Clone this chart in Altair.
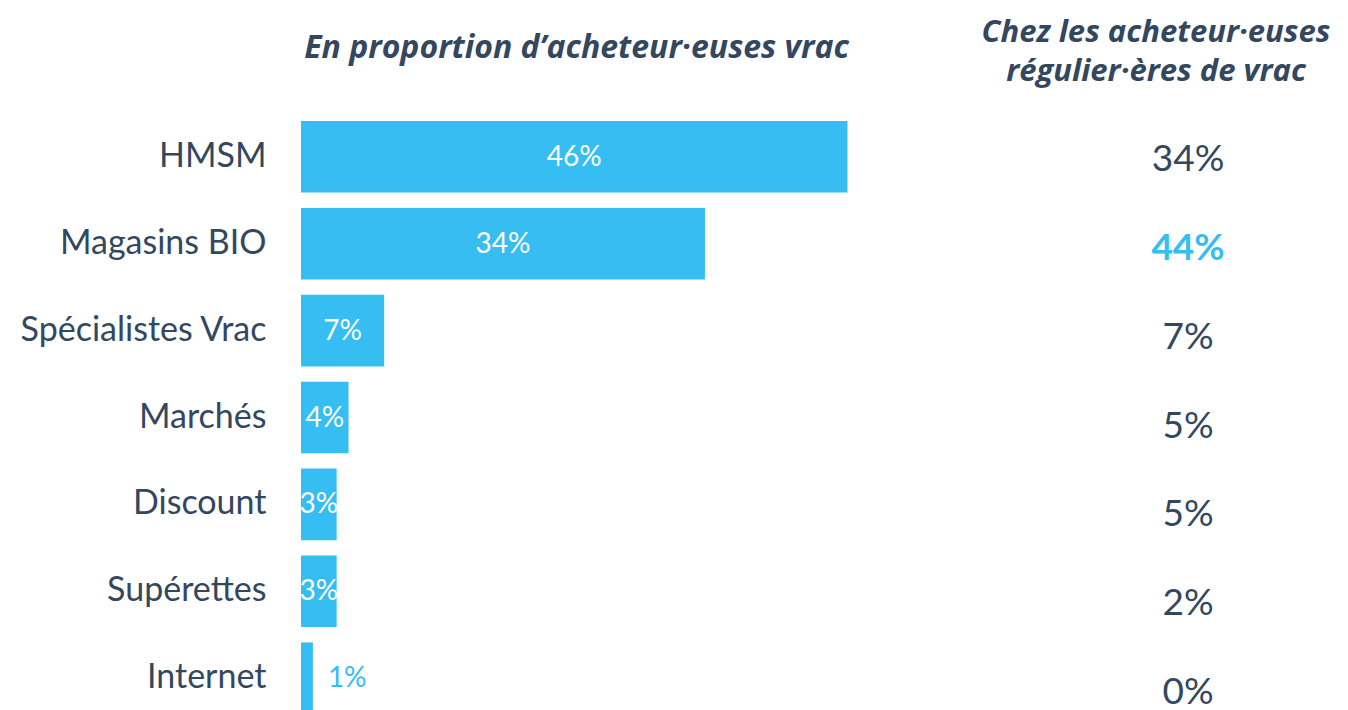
import altair as alt
import pandas as pd

# ---- data ----
categories = ["HMSM", "Magasins BIO", "Spécialistes Vrac", "Marchés",
              "Discount", "Supérettes", "Internet"]
share_all_buyers = [46, 34, 7, 4, 3, 3, 1]          # % of bulk buyers
share_regular_buyers = [34, 44, 7, 5, 5, 2, 0]      # % among regular bulk buyers

title_left = "En proportion d’acheteur·euses vrac"
title_right = ["Chez les acheteur·euses", "régulier·ères de vrac"]

df = pd.DataFrame({"cat": categories, "all": share_all_buyers, "reg": share_regular_buyers})

BLUE = "#36BDF2"
DARK = "#33475F"
FONT = "Lato"
TFONT = "Open Sans"

base = alt.Chart(df)

y_bar = alt.Y(
    "cat:N", sort=categories,
    scale=alt.Scale(domain=categories, paddingInner=0.1765, paddingOuter=0),
    axis=alt.Axis(title=None, domain=False, ticks=False, labelPadding=35,
                  labelFontSize=34, labelFont=FONT, labelColor=DARK,
                  labelLimit=400),
)
x_bar = alt.Scale(domain=[0, 50], nice=False, zero=True)

bars = base.mark_bar(color=BLUE).encode(
    x=alt.X("all:Q", scale=x_bar, axis=None),
    y=y_bar,
)

inside = base.transform_filter("datum.all >= 2").transform_calculate(
    mid="datum.all / 2", lab="datum.all + '%'"
).mark_text(color="white", fontSize=28, font=FONT, baseline="middle", dy=1).encode(
    x=alt.X("mid:Q", scale=x_bar, axis=None),
    y=y_bar,
    text="lab:N",
)

outside = base.transform_filter("datum.all < 2").transform_calculate(
    lab="datum.all + '%'"
).mark_text(color=BLUE, fontSize=28, font=FONT, align="left", dx=15,
            baseline="middle", dy=1).encode(
    x=alt.X("all:Q", scale=x_bar, axis=None),
    y=y_bar,
    text="lab:N",
)

left = alt.layer(bars, inside, outside)

y_txt = alt.Y("cat:N", sort=categories,
              scale=alt.Scale(type="point", domain=categories, padding=0.338, align=0.617),
              axis=None)

rbase = base.transform_joinaggregate(maxreg="max(reg)").transform_calculate(
    lab="datum.reg + '%'"
)
reg_normal = rbase.transform_filter("datum.reg < datum.maxreg").mark_text(
    color=DARK, fontSize=37, font=FONT, baseline="middle", dy=2
).encode(x=alt.value(887), y=y_txt, text="lab:N")
reg_high = rbase.transform_filter("datum.reg == datum.maxreg").mark_text(
    color=BLUE, fontSize=37, font=FONT, fontWeight="bold", baseline="middle", dy=2
).encode(x=alt.value(887), y=y_txt, text="lab:N")

right = alt.layer(reg_normal, reg_high)

hdr_l = alt.Chart(pd.DataFrame({"t": [title_left]})).mark_text(
    font=TFONT, fontSize=32, fontWeight="bold", fontStyle="italic", color=DARK,
    baseline="alphabetic", align="center"
).encode(x=alt.value(275.5), y=alt.value(-63), text="t:N")

hdr_r = alt.Chart(pd.DataFrame({"t": [0]})).mark_text(
    text=title_right, font=TFONT, fontSize=31, fontWeight="bold", fontStyle="italic",
    color=DARK, baseline="alphabetic", align="center", lineHeight=39
).encode(x=alt.value(855), y=alt.value(-79))

chart = alt.layer(left, right, hdr_l, hdr_r).resolve_scale(y="independent").properties(
    width=594, height=593,
    autosize=alt.AutoSizeParams(type="none"),
    padding={"left": 293, "top": 113, "right": 445, "bottom": 0},
    background="white",
).configure_view(stroke=None, strokeWidth=0)

chart.save("out.html", embed_options={"renderer": "svg", "actions": False})
